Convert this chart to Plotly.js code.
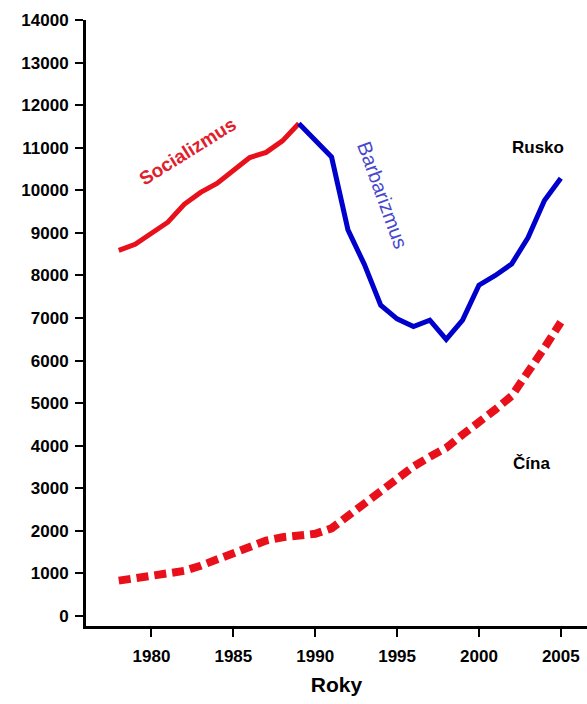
<!DOCTYPE html>
<html>
<head>
<meta charset="utf-8">
<script src="https://cdn.plot.ly/plotly-3.0.1.min.js"></script>
<style>html,body{margin:0;padding:0;background:#fff;}#chart{width:587px;height:704px;}</style>
</head>
<body>
<div id="chart"></div>
<script>
// Russia under socialism (red), 1978-1989
const yearsSoc = [1978,1979,1980,1981,1982,1983,1984,1985,1986,1987,1988,1989];
const russiaSoc = [8590,8730,8990,9250,9670,9950,10160,10460,10770,10890,11160,11570];
// Russia after 1989 (blue), 1989-2005
const yearsBarb = [1989,1990,1991,1992,1993,1994,1995,1996,1997,1998,1999,2000,2001,2002,2003,2004,2005];
const russiaBarb = [11570,11180,10780,9070,8260,7300,6980,6800,6950,6500,6950,7770,8000,8270,8890,9760,10280];
// China, 1978-2005
const yearsChina = [1978,1979,1980,1981,1982,1983,1984,1985,1986,1987,1988,1989,1990,1991,1992,1993,1994,1995,1996,1997,1998,1999,2000,2001,2002,2003,2004,2005];
const china = [830,880,930,1000,1060,1180,1340,1460,1620,1770,1850,1890,1930,2060,2360,2650,2940,3210,3510,3740,3950,4260,4540,4850,5170,5700,6300,6900];
const xTickVals = [1980,1985,1990,1995,2000,2005];
const yTickVals = [0,1000,2000,3000,4000,5000,6000,7000,8000,9000,10000,11000,12000,13000,14000];

const FONT = 'Liberation Sans, Arial, Helvetica, sans-serif';

const traces = [
  {x: yearsChina, y: china, mode: 'lines', line: {color: '#e8101a', width: 8, dash: '12px,6px'}, hoverinfo: 'skip'},
  {x: yearsSoc, y: russiaSoc, mode: 'lines', line: {color: '#e8101a', width: 5}, hoverinfo: 'skip'},
  {x: yearsBarb, y: russiaBarb, mode: 'lines', line: {color: '#0000cc', width: 5}, hoverinfo: 'skip'}
];

const layout = {
  width: 587, height: 704,
  margin: {l: 86, r: 0, t: 20, b: 78},
  paper_bgcolor: '#ffffff', plot_bgcolor: '#ffffff',
  showlegend: false,
  font: {family: FONT, color: '#000', size: 17},
  xaxis: {
    range: [1976, 2006.6],
    tickvals: xTickVals,
    ticktext: xTickVals.map(String),
    ticks: 'outside', ticklen: 8, tickwidth: 2, tickcolor: '#000',
    ticklabelstandoff: 5,
    showline: true, linecolor: '#000', linewidth: 3,
    showgrid: false, zeroline: false,
    tickfont: {family: FONT, size: 17, weight: 'bold', color: '#000'},
    title: {text: 'Roky', font: {family: FONT, size: 21, weight: 'bold', color: '#000'}, standoff: 12}
  },
  yaxis: {
    range: [-235, 14000],
    tickvals: yTickVals,
    ticktext: yTickVals.map(String),
    ticks: 'outside', ticklen: 8, tickwidth: 2, tickcolor: '#000',
    ticklabelstandoff: 3,
    showline: true, linecolor: '#000', linewidth: 3,
    showgrid: false, zeroline: false,
    tickfont: {family: FONT, size: 17, weight: 'bold', color: '#000'}
  },
  annotations: [
    {x: 1982.2, y: 10900, xref: 'x', yref: 'y', text: 'Socializmus', showarrow: false, textangle: -32,
     font: {family: FONT, size: 19, weight: 'bold', color: '#e0202a'}},
    {x: 1994.1, y: 9880, xref: 'x', yref: 'y', text: 'Barbarizmus', showarrow: false, textangle: 70,
     font: {family: FONT, size: 20, weight: 'normal', color: '#4848cc'}},
    {x: 2003.6, y: 11010, xref: 'x', yref: 'y', text: 'Rusko', showarrow: false,
     font: {family: FONT, size: 17, weight: 'bold', color: '#000'}},
    {x: 2003.2, y: 3590, xref: 'x', yref: 'y', text: 'Čína', showarrow: false,
     font: {family: FONT, size: 17, weight: 'bold', color: '#000'}}
  ]
};

Plotly.newPlot('chart', traces, layout, {staticPlot: true, displayModeBar: false});
</script>
</body>
</html>
